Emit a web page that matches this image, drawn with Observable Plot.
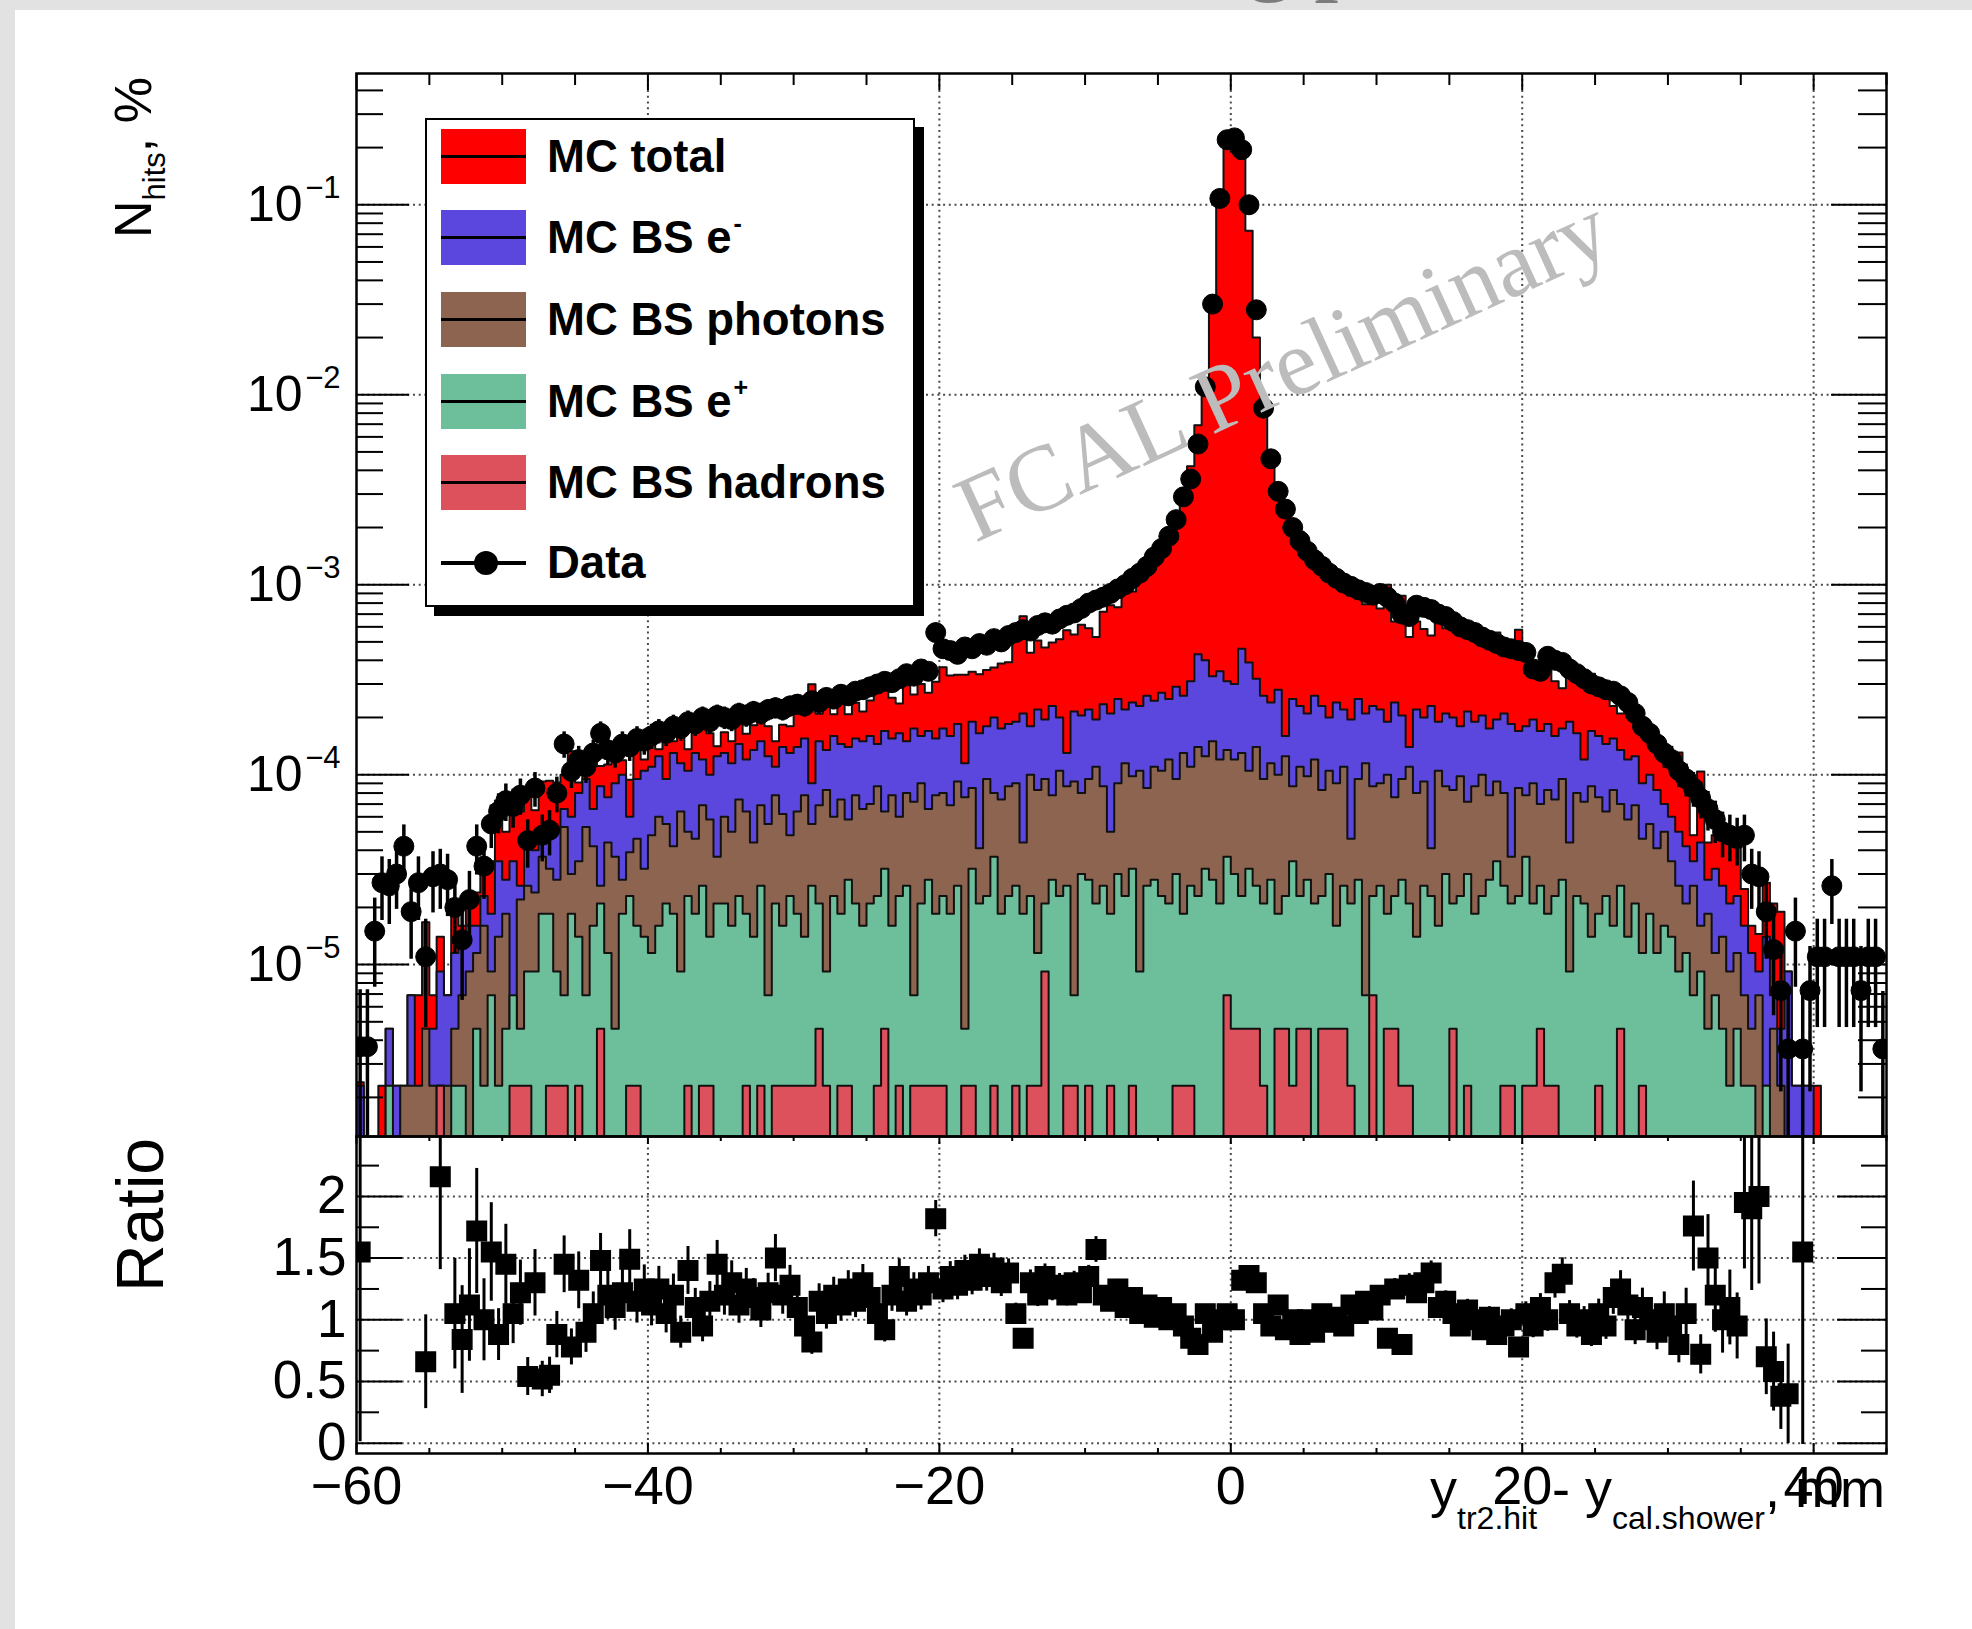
<!DOCTYPE html>
<html>
<head>
<meta charset="utf-8">
<script src="https://cdn.jsdelivr.net/npm/d3@7"></script>
<script src="https://cdn.jsdelivr.net/npm/@observablehq/plot@0.6"></script>
<style>
  html, body { margin: 0; padding: 0; }
  body { width: 1972px; height: 1629px; position: relative; overflow: hidden; background: #e2e2e2; font-family: "Liberation Sans", Arial, sans-serif; }
  #panel { position: absolute; left: 15px; top: 10px; width: 1957px; height: 1619px; background: #fff; }
  #titleFrag { position: absolute; left: 0; top: 0; width: 1972px; height: 10px; overflow: hidden; }
  #titleFrag span { position: absolute; top: -101px; font: 100px/1 "Liberation Serif", serif; color: #7c7c7c; }
  .layer { position: absolute; left: 0; }
  #legend { position: absolute; left: 425px; top: 118px; width: 486px; height: 485px; border: 2.5px solid #000; background: #fff; box-shadow: 9px 9px 0 #000; }
  .sw { position: absolute; left: 14px; width: 85px; height: 55px; }
  .swline { position: absolute; left: 14px; width: 85px; height: 3px; background: #000; }
  .lab { position: absolute; left: 120px; font: bold 45.5px/1 "Liberation Sans", Arial, sans-serif; white-space: nowrap; transform: translateY(-50%); color: #000; }
  .lab sup { font-size: 0.55em; position: relative; top: -0.8em; vertical-align: baseline; margin-left: 2px; }
</style>
</head>
<body>
<div id="panel"></div>
<div id="titleFrag"><span style="left:1245px">g</span><span style="left:1314px">p</span></div>
<div id="mainPlot" class="layer" style="top:0"></div>
<div id="ratioPlot" class="layer" style="top:1100px"></div>
<div id="overlay" class="layer" style="top:0"></div>
<div id="legend"></div>
<script>
// ---------------- DATA (210 bins of 0.5 mm, from -60 to 45 mm) ----------------
const xMin = -60, xMax = 45, binWidth = 0.5;

// Data, N_hits in %
const dataPct = [
  3.7e-6, 3.7e-6, 1.5e-5, 2.7e-5, 2.6e-5, 3.0e-5, 4.2e-5, 1.9e-5, 2.7e-5, 1.1e-5,
  2.9e-5, 3.0e-5, 2.8e-5, 2.0e-5, 1.35e-5, 2.2e-5, 4.2e-5, 3.3e-5, 5.5e-5, 6.4e-5,
  7.3e-5, 6.8e-5, 7.8e-5, 4.5e-5, 8.5e-5, 4.8e-5, 5.1e-5, 8.0e-5, 1.45e-4, 1.04e-4,
  1.2e-4, 1.1e-4, 1.3e-4, 1.65e-4, 1.35e-4, 1.3e-4, 1.45e-4, 1.4e-4, 1.55e-4, 1.5e-4,
  1.6e-4, 1.7e-4, 1.65e-4, 1.8e-4, 1.75e-4, 1.9e-4, 1.85e-4, 2.0e-4, 1.9e-4, 2.05e-4,
  2.0e-4, 1.95e-4, 2.1e-4, 2.05e-4, 2.15e-4, 2.1e-4, 2.2e-4, 2.25e-4, 2.2e-4, 2.3e-4,
  2.35e-4, 2.3e-4, 2.45e-4, 2.4e-4, 2.55e-4, 2.5e-4, 2.65e-4, 2.6e-4, 2.75e-4, 2.8e-4,
  2.9e-4, 3.0e-4, 3.1e-4, 3.05e-4, 3.2e-4, 3.4e-4, 3.3e-4, 3.6e-4, 3.5e-4, 5.6e-4,
  4.6e-4, 4.5e-4, 4.3e-4, 4.7e-4, 4.6e-4, 4.9e-4, 4.8e-4, 5.2e-4, 5.0e-4, 5.4e-4,
  5.6e-4, 5.8e-4, 5.7e-4, 6.1e-4, 6.3e-4, 6.2e-4, 6.6e-4, 6.9e-4, 7.1e-4, 7.5e-4,
  8.0e-4, 8.3e-4, 8.6e-4, 9.0e-4, 9.5e-4, 1.0e-3, 1.08e-3, 1.15e-3, 1.25e-3, 1.4e-3,
  1.55e-3, 1.8e-3, 2.2e-3, 2.9e-3, 3.6e-3, 5.5e-3, 1.1e-2, 3.0e-2, 1.08e-1, 2.2e-1,
  2.25e-1, 1.95e-1, 1.0e-1, 2.8e-2, 8.5e-3, 4.6e-3, 3.1e-3, 2.5e-3, 2.0e-3, 1.7e-3,
  1.5e-3, 1.35e-3, 1.25e-3, 1.15e-3, 1.08e-3, 1.02e-3, 9.8e-4, 9.4e-4, 9.1e-4, 8.8e-4,
  9.0e-4, 8.6e-4, 8.0e-4, 7.0e-4, 6.8e-4, 7.8e-4, 7.6e-4, 7.4e-4, 7.0e-4, 6.8e-4,
  6.4e-4, 6.0e-4, 5.8e-4, 5.6e-4, 5.3e-4, 5.1e-4, 4.9e-4, 4.7e-4, 4.6e-4, 4.5e-4,
  4.4e-4, 3.6e-4, 3.5e-4, 4.2e-4, 4.0e-4, 3.9e-4, 3.6e-4, 3.4e-4, 3.2e-4, 3.0e-4,
  2.9e-4, 2.8e-4, 2.75e-4, 2.6e-4, 2.4e-4, 2.1e-4, 1.8e-4, 1.65e-4, 1.45e-4, 1.3e-4,
  1.2e-4, 1.05e-4, 9.5e-5, 8.5e-5, 7.5e-5, 6.6e-5, 5.8e-5, 5.0e-5, 4.8e-5, 4.6e-5,
  4.8e-5, 3.0e-5, 2.9e-5, 1.9e-5, 1.2e-5, 7.3e-6, 3.6e-6, 1.5e-5, 3.6e-6, 7.3e-6,
  1.1e-5, 1.1e-5, 2.6e-5, 1.1e-5, 1.1e-5, 1.1e-5, 7.3e-6, 1.1e-5, 1.1e-5, 3.6e-6
];

// Ratio Data / MC (null: not drawn)
const ratioVals = [
  1.55, null, null, null, null, null, null, null, null, 0.66,
  null, 2.16, null, 1.05, 0.84, 1.12, 1.72, 1.0, 1.55, 0.88,
  1.45, 1.05, 1.22, 0.54, 1.3, 0.52, 0.55, 0.88, 1.45, 0.78,
  1.32, 0.9, 1.05, 1.48, 1.2, 1.1, 1.22, 1.49, 1.15, 1.25,
  1.12, 1.25, 1.05, 1.2, 0.9, 1.4, 1.1, 0.95, 1.15, 1.45,
  1.2, 1.3, 1.12, 1.25, 1.18, 1.08, 1.22, 1.5, 1.2, 1.28,
  1.1, 0.95, 0.82, 1.15, 1.05, 1.2, 1.12, 1.25, 1.15, 1.3,
  1.18, 1.05, 0.92, 1.2, 1.35, 1.15, 1.25, 1.2, 1.3, 1.82,
  1.25, 1.35, 1.28, 1.4, 1.32, 1.45, 1.35, 1.42, 1.3, 1.38,
  1.05, 0.85, 1.3, 1.2, 1.35, 1.25, 1.28, 1.2, 1.3, 1.22,
  1.35, 1.57, 1.2, 1.15, 1.25, 1.1, 1.18, 1.05, 1.12, 1.02,
  1.1, 1.0, 1.05, 0.95, 0.85, 0.8, 1.05, 0.9, 1.0, 1.05,
  1.0, 1.32, 1.36, 1.3, 1.05, 0.95, 1.12, 0.92, 1.0, 0.88,
  1.0, 0.9, 1.05, 0.98, 1.02, 0.95, 1.12, 1.05, 1.15, 1.08,
  1.2, 0.85, 1.25, 0.8, 1.28, 1.22, 1.3, 1.38, 1.1, 1.15,
  1.05, 0.95, 1.08, 1.0, 0.92, 1.02, 0.88, 0.95, 1.0, 0.78,
  1.05, 0.95, 1.1, 1.0, 1.3, 1.37, 1.05, 0.95, 1.0, 0.88,
  1.05, 0.95, 1.18, 1.25, 1.12, 0.92, 1.1, 1.0, 0.9, 1.05,
  0.95, 0.8, 1.05, 1.76, 0.72, 1.5, 1.2, 1.0, 1.1, 0.95,
  1.95, 1.9, 2.0, 0.7, 0.58, 0.38, 0.4, null, 1.55, null,
  null, null, null, null, null, null, null, null, null, null
];

// MC total (top of red)
const mcTotal = [
  2.4e-6, 0, 0, 2.3e-6, 4.6e-6, 2.3e-6, 2.3e-6, 6.9e-6, 6.9e-6, 1.67e-5,
  6.9e-6, 1.4e-5, 6.9e-6, 1.9e-5, 1.6e-5, 2.0e-5, 2.4e-5, 3.3e-5, 3.5e-5, 7.3e-5,
  5.0e-5, 6.5e-5, 6.4e-5, 8.3e-5, 6.5e-5, 9.2e-5, 9.3e-5, 9.1e-5, 1.0e-4, 1.33e-4,
  9.1e-5, 1.22e-4, 1.24e-4, 1.11e-4, 1.13e-4, 1.18e-4, 1.19e-4, 9.4e-5, 1.35e-4, 1.2e-4,
  1.43e-4, 1.36e-4, 1.57e-4, 1.5e-4, 1.94e-4, 1.36e-4, 1.68e-4, 2.1e-4, 1.65e-4, 1.41e-4,
  1.67e-4, 1.5e-4, 1.88e-4, 1.64e-4, 1.82e-4, 1.94e-4, 1.8e-4, 1.5e-4, 1.83e-4, 1.8e-4,
  2.14e-4, 2.42e-4, 2.99e-4, 2.09e-4, 2.43e-4, 2.08e-4, 2.37e-4, 2.08e-4, 2.39e-4, 2.15e-4,
  2.46e-4, 2.86e-4, 3.37e-4, 2.54e-4, 2.37e-4, 2.96e-4, 2.64e-4, 3.0e-4, 2.7e-4, 3.08e-4,
  3.68e-4, 3.33e-4, 3.36e-4, 3.36e-4, 3.48e-4, 3.38e-4, 3.56e-4, 3.66e-4, 3.85e-4, 3.91e-4,
  5.33e-4, 6.82e-4, 4.38e-4, 5.08e-4, 4.67e-4, 4.96e-4, 5.16e-4, 5.75e-4, 5.46e-4, 6.15e-4,
  5.9e-4, 5.3e-4, 7.2e-4, 7.8e-4, 7.6e-4, 9.1e-4, 9.2e-4, 1.1e-3, 1.12e-3, 1.37e-3,
  1.4e-3, 1.8e-3, 2.1e-3, 3.0e-3, 4.2e-3, 6.9e-3, 1.05e-2, 3.3e-2, 1.08e-1, 2.1e-1,
  1.9e-1, 1.75e-1, 7.3e-2, 2.0e-2, 8.0e-3, 4.8e-3, 2.8e-3, 2.7e-3, 2.0e-3, 1.9e-3,
  1.5e-3, 1.5e-3, 1.19e-3, 1.17e-3, 1.06e-3, 1.07e-3, 8.75e-4, 8.95e-4, 7.9e-4, 8.15e-4,
  7.5e-4, 1.0e-3, 6.4e-4, 8.75e-4, 5.3e-4, 6.4e-4, 5.85e-4, 5.4e-4, 6.4e-4, 5.9e-4,
  6.1e-4, 6.3e-4, 5.4e-4, 5.6e-4, 5.75e-4, 5.0e-4, 5.6e-4, 4.95e-4, 4.6e-4, 5.8e-4,
  4.2e-4, 3.8e-4, 3.2e-4, 4.2e-4, 3.1e-4, 2.85e-4, 3.45e-4, 3.6e-4, 3.2e-4, 3.4e-4,
  2.75e-4, 2.95e-4, 2.3e-4, 2.1e-4, 2.15e-4, 2.3e-4, 1.65e-4, 1.65e-4, 1.6e-4, 1.25e-4,
  1.26e-4, 1.31e-4, 9.0e-5, 4.8e-5, 1.04e-4, 4.4e-5, 4.8e-5, 5.0e-5, 4.4e-5, 4.8e-5,
  2.5e-5, 1.6e-5, 1.45e-5, 2.7e-5, 2.1e-5, 1.9e-5, 9.2e-6, 2.3e-6, 2.3e-6, 2.3e-6,
  2.3e-6, 0, 0, 0, 0, 0, 0, 0, 0, 0
];

// MC BS e- (top of blue)
const mcBSeMinus = [
  2.3e-6, 0, 0, 0, 4.6e-6, 2.3e-6, 0, 6.9e-6, 0, 4.6e-6,
  4.6e-6, 9.2e-6, 6.9e-6, 1.15e-5, 1.4e-5, 1.6e-5, 1.6e-5, 2.3e-5, 1.85e-5, 3.5e-5,
  2.8e-5, 3.5e-5, 2.6e-5, 4.2e-5, 4.0e-5, 4.6e-5, 5.5e-5, 5.0e-5, 6.6e-5, 6.0e-5,
  8.0e-5, 9.5e-5, 6.6e-5, 8.7e-5, 7.6e-5, 9.0e-5, 1.0e-4, 6.0e-5, 9.5e-5, 1.05e-4,
  1.1e-4, 1.25e-4, 9.5e-5, 1.3e-4, 1.15e-4, 1.05e-4, 1.3e-4, 1.2e-4, 1.0e-4, 1.25e-4,
  1.3e-4, 1.15e-4, 1.45e-4, 1.2e-4, 1.35e-4, 1.5e-4, 1.25e-4, 1.1e-4, 1.4e-4, 1.3e-4,
  1.4e-4, 1.55e-4, 9.0e-5, 1.5e-4, 1.35e-4, 1.6e-4, 1.45e-4, 1.4e-4, 1.55e-4, 1.5e-4,
  1.6e-4, 1.45e-4, 1.7e-4, 1.55e-4, 1.65e-4, 1.5e-4, 1.75e-4, 1.6e-4, 1.7e-4, 1.55e-4,
  1.75e-4, 1.6e-4, 1.85e-4, 1.15e-4, 1.9e-4, 1.65e-4, 1.8e-4, 2.0e-4, 1.75e-4, 1.85e-4,
  1.9e-4, 2.1e-4, 1.8e-4, 2.2e-4, 1.95e-4, 2.3e-4, 2.0e-4, 1.3e-4, 2.15e-4, 2.05e-4,
  2.2e-4, 1.95e-4, 2.35e-4, 2.1e-4, 2.5e-4, 2.2e-4, 2.4e-4, 2.3e-4, 2.6e-4, 2.45e-4,
  2.7e-4, 2.5e-4, 2.9e-4, 2.6e-4, 3.1e-4, 4.3e-4, 4.0e-4, 3.3e-4, 3.5e-4, 3.1e-4,
  3.0e-4, 4.6e-4, 3.9e-4, 3.2e-4, 2.6e-4, 2.4e-4, 2.8e-4, 1.6e-4, 2.5e-4, 2.3e-4,
  2.1e-4, 2.6e-4, 2.3e-4, 2.0e-4, 2.4e-4, 2.2e-4, 1.95e-4, 2.5e-4, 2.1e-4, 2.3e-4,
  2.2e-4, 1.9e-4, 2.4e-4, 2.05e-4, 1.4e-4, 2.2e-4, 2.0e-4, 2.3e-4, 1.9e-4, 2.1e-4,
  2.0e-4, 1.8e-4, 2.15e-4, 1.9e-4, 2.05e-4, 1.75e-4, 1.95e-4, 2.1e-4, 1.85e-4, 1.7e-4,
  1.8e-4, 1.95e-4, 1.7e-4, 1.85e-4, 1.6e-4, 1.75e-4, 1.9e-4, 1.65e-4, 1.2e-4, 1.7e-4,
  1.6e-4, 1.45e-4, 1.55e-4, 1.35e-4, 1.2e-4, 1.25e-4, 9.0e-5, 1.0e-4, 8.3e-5, 7.0e-5,
  6.0e-5, 5.0e-5, 4.2e-5, 3.5e-5, 4.4e-5, 2.8e-5, 3.2e-5, 2.6e-5, 2.1e-5, 2.3e-5,
  1.6e-5, 1.15e-5, 9.2e-6, 1.4e-5, 6.9e-6, 4.6e-6, 9.2e-6, 2.3e-6, 2.3e-6, 2.3e-6,
  0, 0, 0, 0, 0, 0, 0, 0, 0, 0
];

// MC BS photons (top of brown)
const mcBSPhotons = [
  0, 0, 0, 0, 0, 0, 2.3e-6, 2.3e-6, 2.3e-6, 4.6e-6,
  2.3e-6, 2.3e-6, 2.3e-6, 4.6e-6, 6.9e-6, 9.2e-6, 1.15e-5, 1.6e-5, 9.2e-6, 1.4e-5,
  1.85e-5, 4.6e-6, 2.2e-5, 2.6e-5, 2.4e-5, 3.7e-5, 3.2e-5, 2.8e-5, 5.3e-5, 3.0e-5,
  3.5e-5, 5.3e-5, 4.2e-5, 2.6e-5, 4.4e-5, 3.7e-5, 2.8e-5, 3.9e-5, 4.6e-5, 3.2e-5,
  4.8e-5, 6.0e-5, 5.5e-5, 4.2e-5, 6.4e-5, 5.0e-5, 4.6e-5, 6.9e-5, 5.8e-5, 3.7e-5,
  6.0e-5, 5.0e-5, 7.4e-5, 6.4e-5, 4.4e-5, 6.9e-5, 5.5e-5, 7.8e-5, 6.2e-5, 4.8e-5,
  6.4e-5, 7.8e-5, 5.5e-5, 6.9e-5, 8.3e-5, 6.0e-5, 7.4e-5, 5.8e-5, 7.8e-5, 6.6e-5,
  7.0e-5, 8.7e-5, 6.4e-5, 7.8e-5, 6.0e-5, 8.0e-5, 7.2e-5, 9.0e-5, 6.6e-5, 7.8e-5,
  8.0e-5, 6.9e-5, 9.2e-5, 7.6e-5, 8.5e-5, 4.1e-5, 9.5e-5, 8.0e-5, 7.4e-5, 8.7e-5,
  9.0e-5, 4.4e-5, 1.0e-4, 8.3e-5, 9.5e-5, 7.8e-5, 1.05e-4, 8.7e-5, 9.2e-5, 8.0e-5,
  9.5e-5, 1.1e-4, 8.7e-5, 5.0e-5, 9.0e-5, 1.15e-4, 9.8e-5, 1.05e-4, 8.5e-5, 1.1e-4,
  1.05e-4, 1.2e-4, 9.5e-5, 1.3e-4, 1.1e-4, 1.4e-4, 1.25e-4, 1.5e-4, 1.2e-4, 1.35e-4,
  1.2e-4, 1.3e-4, 1.05e-4, 1.4e-4, 9.5e-5, 1.15e-4, 1.0e-4, 1.25e-4, 8.7e-5, 1.1e-4,
  9.8e-5, 1.2e-4, 8.3e-5, 1.05e-4, 9.0e-5, 1.1e-4, 4.6e-5, 9.5e-5, 1.15e-4, 8.7e-5,
  9.0e-5, 1.0e-4, 7.6e-5, 9.5e-5, 1.1e-4, 8.0e-5, 9.2e-5, 4.1e-5, 1.05e-4, 8.7e-5,
  8.3e-5, 9.8e-5, 7.2e-5, 8.7e-5, 1.0e-4, 7.8e-5, 9.2e-5, 8.0e-5, 3.7e-5, 8.5e-5,
  7.8e-5, 9.0e-5, 7.0e-5, 8.3e-5, 7.4e-5, 9.5e-5, 4.4e-5, 8.0e-5, 7.2e-5, 8.7e-5,
  7.6e-5, 6.4e-5, 8.3e-5, 7.0e-5, 5.8e-5, 6.9e-5, 4.6e-5, 5.5e-5, 4.1e-5, 5.0e-5,
  3.5e-5, 2.6e-5, 2.1e-5, 2.6e-5, 1.6e-5, 1.85e-5, 1.15e-5, 1.4e-5, 9.2e-6, 1.15e-5,
  6.9e-6, 4.6e-6, 6.9e-6, 2.3e-6, 4.6e-6, 2.3e-6, 0, 0, 0, 0,
  0, 0, 0, 0, 0, 0, 0, 0, 0, 0
];

// MC BS e+ (top of green)
const mcBSePlus = [
  0, 0, 0, 0, 2.3e-6, 0, 0, 0, 0, 0,
  0, 2.3e-6, 0, 2.3e-6, 2.3e-6, 0, 4.6e-6, 2.3e-6, 6.9e-6, 2.3e-6,
  4.6e-6, 6.9e-6, 4.6e-6, 9.2e-6, 9.2e-6, 1.85e-5, 1.85e-5, 9.2e-6, 6.9e-6, 1.85e-5,
  1.4e-5, 6.9e-6, 1.6e-5, 2.1e-5, 1.15e-5, 4.6e-6, 1.85e-5, 2.3e-5, 1.6e-5, 1.4e-5,
  1.15e-5, 1.6e-5, 2.1e-5, 1.85e-5, 9.2e-6, 2.3e-5, 1.85e-5, 2.6e-5, 1.4e-5, 2.1e-5,
  2.1e-5, 1.6e-5, 2.3e-5, 1.85e-5, 1.4e-5, 2.6e-5, 6.9e-6, 2.1e-5, 1.6e-5, 2.3e-5,
  1.85e-5, 1.4e-5, 2.6e-5, 2.1e-5, 9.2e-6, 2.3e-5, 1.85e-5, 2.8e-5, 2.1e-5, 1.6e-5,
  2.1e-5, 2.3e-5, 3.2e-5, 1.6e-5, 2.3e-5, 2.6e-5, 6.9e-6, 2.1e-5, 2.8e-5, 1.85e-5,
  2.3e-5, 1.85e-5, 2.6e-5, 4.6e-6, 3.2e-5, 2.1e-5, 2.3e-5, 3.7e-5, 1.85e-5, 2.3e-5,
  2.6e-5, 1.85e-5, 2.3e-5, 1.15e-5, 2.1e-5, 2.8e-5, 2.3e-5, 2.6e-5, 6.9e-6, 3.0e-5,
  2.8e-5, 2.1e-5, 2.6e-5, 1.85e-5, 3.0e-5, 2.3e-5, 3.2e-5, 9.2e-6, 2.6e-5, 2.8e-5,
  2.3e-5, 2.1e-5, 3.0e-5, 1.85e-5, 2.6e-5, 2.3e-5, 3.2e-5, 2.8e-5, 2.1e-5, 3.7e-5,
  3.0e-5, 2.3e-5, 3.2e-5, 2.6e-5, 2.1e-5, 2.8e-5, 1.85e-5, 2.3e-5, 3.5e-5, 2.3e-5,
  2.8e-5, 2.1e-5, 2.3e-5, 3.0e-5, 1.6e-5, 2.6e-5, 2.1e-5, 2.8e-5, 6.9e-6, 2.3e-5,
  2.6e-5, 1.85e-5, 2.3e-5, 2.8e-5, 2.1e-5, 1.4e-5, 2.6e-5, 2.3e-5, 1.6e-5, 3.0e-5,
  2.1e-5, 2.3e-5, 3.0e-5, 1.85e-5, 2.3e-5, 2.8e-5, 3.5e-5, 2.6e-5, 2.1e-5, 2.3e-5,
  3.7e-5, 2.1e-5, 2.6e-5, 1.85e-5, 2.3e-5, 2.8e-5, 9.2e-6, 2.3e-5, 2.1e-5, 1.4e-5,
  1.85e-5, 2.3e-5, 1.6e-5, 2.6e-5, 1.4e-5, 2.1e-5, 1.15e-5, 1.85e-5, 1.15e-5, 1.6e-5,
  1.4e-5, 9.2e-6, 1.15e-5, 6.9e-6, 9.2e-6, 4.6e-6, 6.9e-6, 4.6e-6, 2.3e-6, 4.6e-6,
  2.3e-6, 2.3e-6, 0, 2.3e-6, 0, 0, 0, 0, 0, 0,
  0, 0, 0, 0, 0, 0, 0, 0, 0, 0
];

// MC BS hadrons (top of pink)
const mcBSHadrons = [
  0, 0, 0, 0, 0, 0, 0, 0, 0, 0,
  0, 2.3e-6, 0, 0, 0, 0, 0, 0, 0, 0,
  0, 2.3e-6, 2.3e-6, 2.3e-6, 0, 0, 2.3e-6, 2.3e-6, 2.3e-6, 0,
  2.3e-6, 0, 0, 4.6e-6, 0, 0, 0, 2.3e-6, 2.3e-6, 0,
  0, 0, 0, 0, 0, 2.3e-6, 0, 2.3e-6, 2.3e-6, 0,
  0, 0, 0, 2.3e-6, 0, 2.3e-6, 0, 2.3e-6, 2.3e-6, 2.3e-6,
  2.3e-6, 2.3e-6, 2.3e-6, 4.6e-6, 2.3e-6, 0, 2.3e-6, 2.3e-6, 0, 0,
  0, 2.3e-6, 4.6e-6, 0, 2.3e-6, 0, 2.3e-6, 2.3e-6, 2.3e-6, 2.3e-6,
  2.3e-6, 0, 0, 2.3e-6, 2.3e-6, 0, 0, 2.3e-6, 0, 0,
  2.3e-6, 0, 2.3e-6, 2.3e-6, 9.2e-6, 0, 0, 2.3e-6, 2.3e-6, 0,
  2.3e-6, 0, 0, 2.3e-6, 0, 0, 2.3e-6, 0, 0, 0,
  0, 0, 2.3e-6, 2.3e-6, 2.3e-6, 0, 0, 0, 0, 6.9e-6,
  4.6e-6, 4.6e-6, 4.6e-6, 4.6e-6, 2.3e-6, 0, 4.6e-6, 4.6e-6, 2.3e-6, 4.6e-6,
  4.6e-6, 0, 4.6e-6, 4.6e-6, 4.6e-6, 4.6e-6, 2.3e-6, 0, 0, 6.9e-6,
  0, 4.6e-6, 4.6e-6, 2.3e-6, 2.3e-6, 0, 0, 0, 0, 0,
  4.6e-6, 0, 2.3e-6, 0, 0, 0, 0, 2.3e-6, 2.3e-6, 0,
  2.3e-6, 2.3e-6, 4.6e-6, 2.3e-6, 2.3e-6, 0, 0, 0, 0, 0,
  2.3e-6, 0, 0, 4.6e-6, 0, 0, 2.3e-6, 0, 0, 0,
  0, 0, 0, 0, 0, 0, 0, 0, 0, 0,
  0, 0, 0, 0, 0, 0, 0, 0, 0, 0,
  0, 0, 0, 0, 0, 0, 0, 0, 0, 0
];

// Tick labels
const xTickMajor = [-60, -40, -20, 0, 20, 40];
const xTickLabels = ["\u221260", "\u221240", "\u221220", "0", "20", "40"];
const yDecades = [1e-1, 1e-2, 1e-3, 1e-4, 1e-5];
const yDecadeExponents = ["\u22121", "\u22122", "\u22123", "\u22124", "\u22125"];
const ratioTicks = [0, 0.5, 1, 1.5, 2];
const ratioTickLabels = ["0", "0.5", "1", "1.5", "2"];
const legendLabels = ["MC total", "MC BS e", "MC BS photons", "MC BS e", "MC BS hadrons", "Data"];
const legendSups = ["", "-", "", "+", "", ""];

// ---------------- STYLE ----------------
const FONT = "'Liberation Sans', Arial, Helvetica, sans-serif";
const colors = {total: "#ff0000", eminus: "#5b46de", photons: "#8c6450", eplus: "#6dbf9b", hadrons: "#dc515b"};
const GRID = {stroke: "#4a4a4a", strokeWidth: 2, strokeDasharray: "2,3.7"};
const FLOOR = 1e-7;           // below visible range (used for empty bins)
const dataUnitPct = 3.65e-6;  // % per data entry (for Poisson error bars)

const W = 1972, mL = 356, mR = 86;
const frameW = W - mL - mR;
const mainTop = 73, mainBottom = 1136, mainH = 1137;
const frameH = mainBottom - mainTop;
const ratioSvgTop = 1100, ratioH = 529, rTop = 1136, rBottom = 1453;
const rFrameH = rBottom - rTop;

// ---------------- DERIVED ROWS ----------------
const bins = dataPct.map((d, i) => ({
  lo: xMin + i * binWidth, hi: xMin + (i + 1) * binWidth, xc: xMin + (i + 0.5) * binWidth,
  data: d, ratio: ratioVals[i]
}));
function stepPoints(values) {
  const pts = values.map((v, i) => ({x: xMin + i * binWidth, y: v > 0 ? v : FLOOR}));
  const last = values[values.length - 1];
  pts.push({x: xMin + values.length * binWidth, y: last > 0 ? last : FLOOR});
  return pts;
}
const mcSeries = [
  {values: mcTotal, color: colors.total},
  {values: mcBSeMinus, color: colors.eminus},
  {values: mcBSPhotons, color: colors.photons},
  {values: mcBSePlus, color: colors.eplus},
  {values: mcBSHadrons, color: colors.hadrons}
];
const dataErr = v => Math.sqrt(v * dataUnitPct);
const dataRows = bins.filter(b => b.data > 0);
const ratioRows = bins.filter(b => b.ratio != null);
const ratioErr = b => b.ratio * Math.sqrt(dataUnitPct / b.data);

const xAllTicks = d3.range(xMin, xMax + 0.001, 5);
const xMinorTicks = xAllTicks.filter(v => !xTickMajor.includes(v));
const xGrid = xTickMajor.filter(v => v !== xMin);
const yMinor = [];
for (let k = -6; k <= -1; k++) for (let m = 2; m <= 9; m++) {
  const v = m * Math.pow(10, k);
  if (v > 1.245e-6 && v < 0.491) yMinor.push(v);
}
const rMinor = [0.25, 0.75, 1.25, 1.75, 2.25];
const tick = {stroke: "#000", strokeWidth: 2};

// ---------------- MAIN PANEL ----------------
const mainPlot = Plot.plot({
  width: W, height: mainH,
  marginLeft: mL, marginRight: mR, marginTop: mainTop, marginBottom: mainH - mainBottom,
  x: {domain: [xMin, xMax], axis: null},
  y: {type: "log", domain: [1.245e-6, 0.491], axis: null},
  style: {background: "transparent", fontFamily: FONT, overflow: "visible"},
  marks: [
    Plot.ruleX(xGrid, GRID),
    Plot.ruleY(yDecades, GRID),
    ...mcSeries.flatMap(s => {
      const pts = stepPoints(s.values);
      return [
        Plot.areaY(pts, {x: "x", y1: FLOOR, y2: "y", curve: "step-after", fill: s.color, clip: true}),
        Plot.line(pts, {x: "x", y: "y", curve: "step-after", stroke: "#111", strokeWidth: 2, clip: true})
      ];
    }),
    Plot.ruleX(dataRows, {x: "xc", y1: b => Math.max(b.data - dataErr(b.data), FLOOR), y2: b => b.data + dataErr(b.data), stroke: "#000", strokeWidth: 3.5, clip: true}),
    Plot.ruleY(dataRows, {y: "data", x1: "lo", x2: "hi", stroke: "#000", strokeWidth: 3.5, clip: true}),
    Plot.dot(dataRows, {x: "xc", y: "data", r: 10, fill: "#000", stroke: "#000", strokeWidth: 1, clip: true}),
    // ticks
    Plot.ruleX(xMinorTicks, {...tick, insetBottom: frameH - 12}),
    Plot.ruleX(xTickMajor, {...tick, insetBottom: frameH - 17}),
    Plot.ruleY(yMinor, {...tick, insetRight: frameW - 27}),
    Plot.ruleY(yDecades, {...tick, insetRight: frameW - 53}),
    Plot.ruleY(yMinor, {...tick, insetLeft: frameW - 28}),
    Plot.ruleY(yDecades, {...tick, insetLeft: frameW - 55}),
    Plot.frame({stroke: "#000", strokeWidth: 2.5}),
    // y tick labels 10^-k
    Plot.text(yDecades, {x: xMin, y: d => d, text: () => "10", dx: -54, textAnchor: "end", fontSize: 50, fill: "#000"}),
    Plot.text(yDecades, {x: xMin, y: d => d, text: (d, i) => yDecadeExponents[i], dx: -16, dy: -17, textAnchor: "end", fontSize: 31, fill: "#000"})
  ]
});
document.getElementById("mainPlot").appendChild(mainPlot);

// ---------------- RATIO PANEL ----------------
const ratioPlot = Plot.plot({
  width: W, height: ratioH,
  marginLeft: mL, marginRight: mR, marginTop: rTop - ratioSvgTop, marginBottom: ratioH - (rBottom - ratioSvgTop),
  x: {domain: [xMin, xMax], axis: null},
  y: {domain: [-0.084, 2.486], axis: null},
  style: {background: "transparent", fontFamily: FONT, overflow: "visible"},
  marks: [
    Plot.ruleX(xGrid, GRID),
    Plot.ruleY(ratioTicks, GRID),
    Plot.ruleX(ratioRows, {x: "xc", y1: b => b.ratio - ratioErr(b), y2: b => b.ratio + ratioErr(b), stroke: "#000", strokeWidth: 3, clip: true}),
    Plot.dot(ratioRows, {x: "xc", y: "ratio", symbol: "square", r: 11, fill: "#000", stroke: "#000", clip: true}),
    Plot.ruleX(xMinorTicks, {...tick, insetBottom: rFrameH - 5}),
    Plot.ruleX(xTickMajor, {...tick, insetBottom: rFrameH - 8}),
    Plot.ruleX(xMinorTicks, {...tick, insetTop: rFrameH - 5}),
    Plot.ruleX(xTickMajor, {...tick, insetTop: rFrameH - 10}),
    Plot.ruleY(rMinor, {...tick, insetRight: frameW - 23}),
    Plot.ruleY(ratioTicks, {...tick, insetRight: frameW - 46}),
    Plot.ruleY(rMinor, {...tick, insetLeft: frameW - 25}),
    Plot.ruleY(ratioTicks, {...tick, insetLeft: frameW - 49}),
    Plot.frame({stroke: "#000", strokeWidth: 2.5}),
    Plot.text(ratioTicks, {x: xMin, y: d => d, text: (d, i) => ratioTickLabels[i], dx: -10, textAnchor: "end", fontSize: 53, fill: "#000"}),
    Plot.text(xTickMajor, {x: d => d, frameAnchor: "bottom", text: (d, i) => xTickLabels[i], lineAnchor: "top", dy: 12, fontSize: 54, fill: "#000"})
  ]
});
document.getElementById("ratioPlot").appendChild(ratioPlot);

// ---------------- TITLES & WATERMARK ----------------
const ov = d3.select("#overlay").append("svg")
  .attr("width", W).attr("height", 1629)
  .style("overflow", "visible")
  .style("font-family", FONT);

// y title main
const yt = ov.append("text").attr("transform", "translate(151,77) rotate(-90)")
  .attr("text-anchor", "end").attr("font-size", 52).attr("fill", "#000");
yt.append("tspan").text("N");
yt.append("tspan").attr("font-size", 31).attr("dy", 14).text("hits");
yt.append("tspan").attr("dy", -14).text(", %");

// ratio title
ov.append("text").attr("transform", "translate(163,1138) rotate(-90)")
  .attr("text-anchor", "end").attr("font-size", 66).attr("fill", "#000").text("Ratio");

// x title
const xt = ov.append("text").attr("x", 1885).attr("y", 1507)
  .attr("text-anchor", "end").attr("font-size", 54).attr("fill", "#000");
xt.append("tspan").text("y");
xt.append("tspan").attr("font-size", 32).attr("dy", 22).text("tr2.hit");
xt.append("tspan").attr("dy", -22).text(" - y");
xt.append("tspan").attr("font-size", 32).attr("dy", 22).text("cal.shower");
xt.append("tspan").attr("dy", -22).text(", mm");

// watermark
ov.append("text").attr("x", 975).attr("y", 543)
  .attr("transform", "rotate(-24.5 975 543)")
  .attr("font-family", "'Liberation Serif', 'Times New Roman', serif")
  .attr("font-size", 94).attr("fill", "#bcbcbc").text("FCAL Preliminary");

// ---------------- LEGEND ----------------
const legend = d3.select("#legend");
const entryCenters = [36.5, 117.5, 199.5, 281.5, 362.5, 442.5];
const legendColors = [colors.total, colors.eminus, colors.photons, colors.eplus, colors.hadrons, null];
legendLabels.forEach((lab, i) => {
  const cy = entryCenters[i];
  if (legendColors[i]) {
    legend.append("div").attr("class", "sw").style("top", (cy - 27.5) + "px").style("background", legendColors[i]);
    legend.append("div").attr("class", "swline").style("top", (cy - 1.5) + "px");
  } else {
    legend.append("div").attr("class", "swline").style("top", (cy - 2) + "px").style("height", "4px");
    legend.append("div").style("position", "absolute").style("left", (58.5 - 12) + "px").style("top", (cy - 12) + "px")
      .style("width", "24px").style("height", "24px").style("border-radius", "50%").style("background", "#000");
  }
  const t = legend.append("div").attr("class", "lab").style("top", cy + "px");
  t.append("span").text(lab);
  if (legendSups[i]) t.append("sup").text(legendSups[i]);
});
</script>
</body>
</html>
